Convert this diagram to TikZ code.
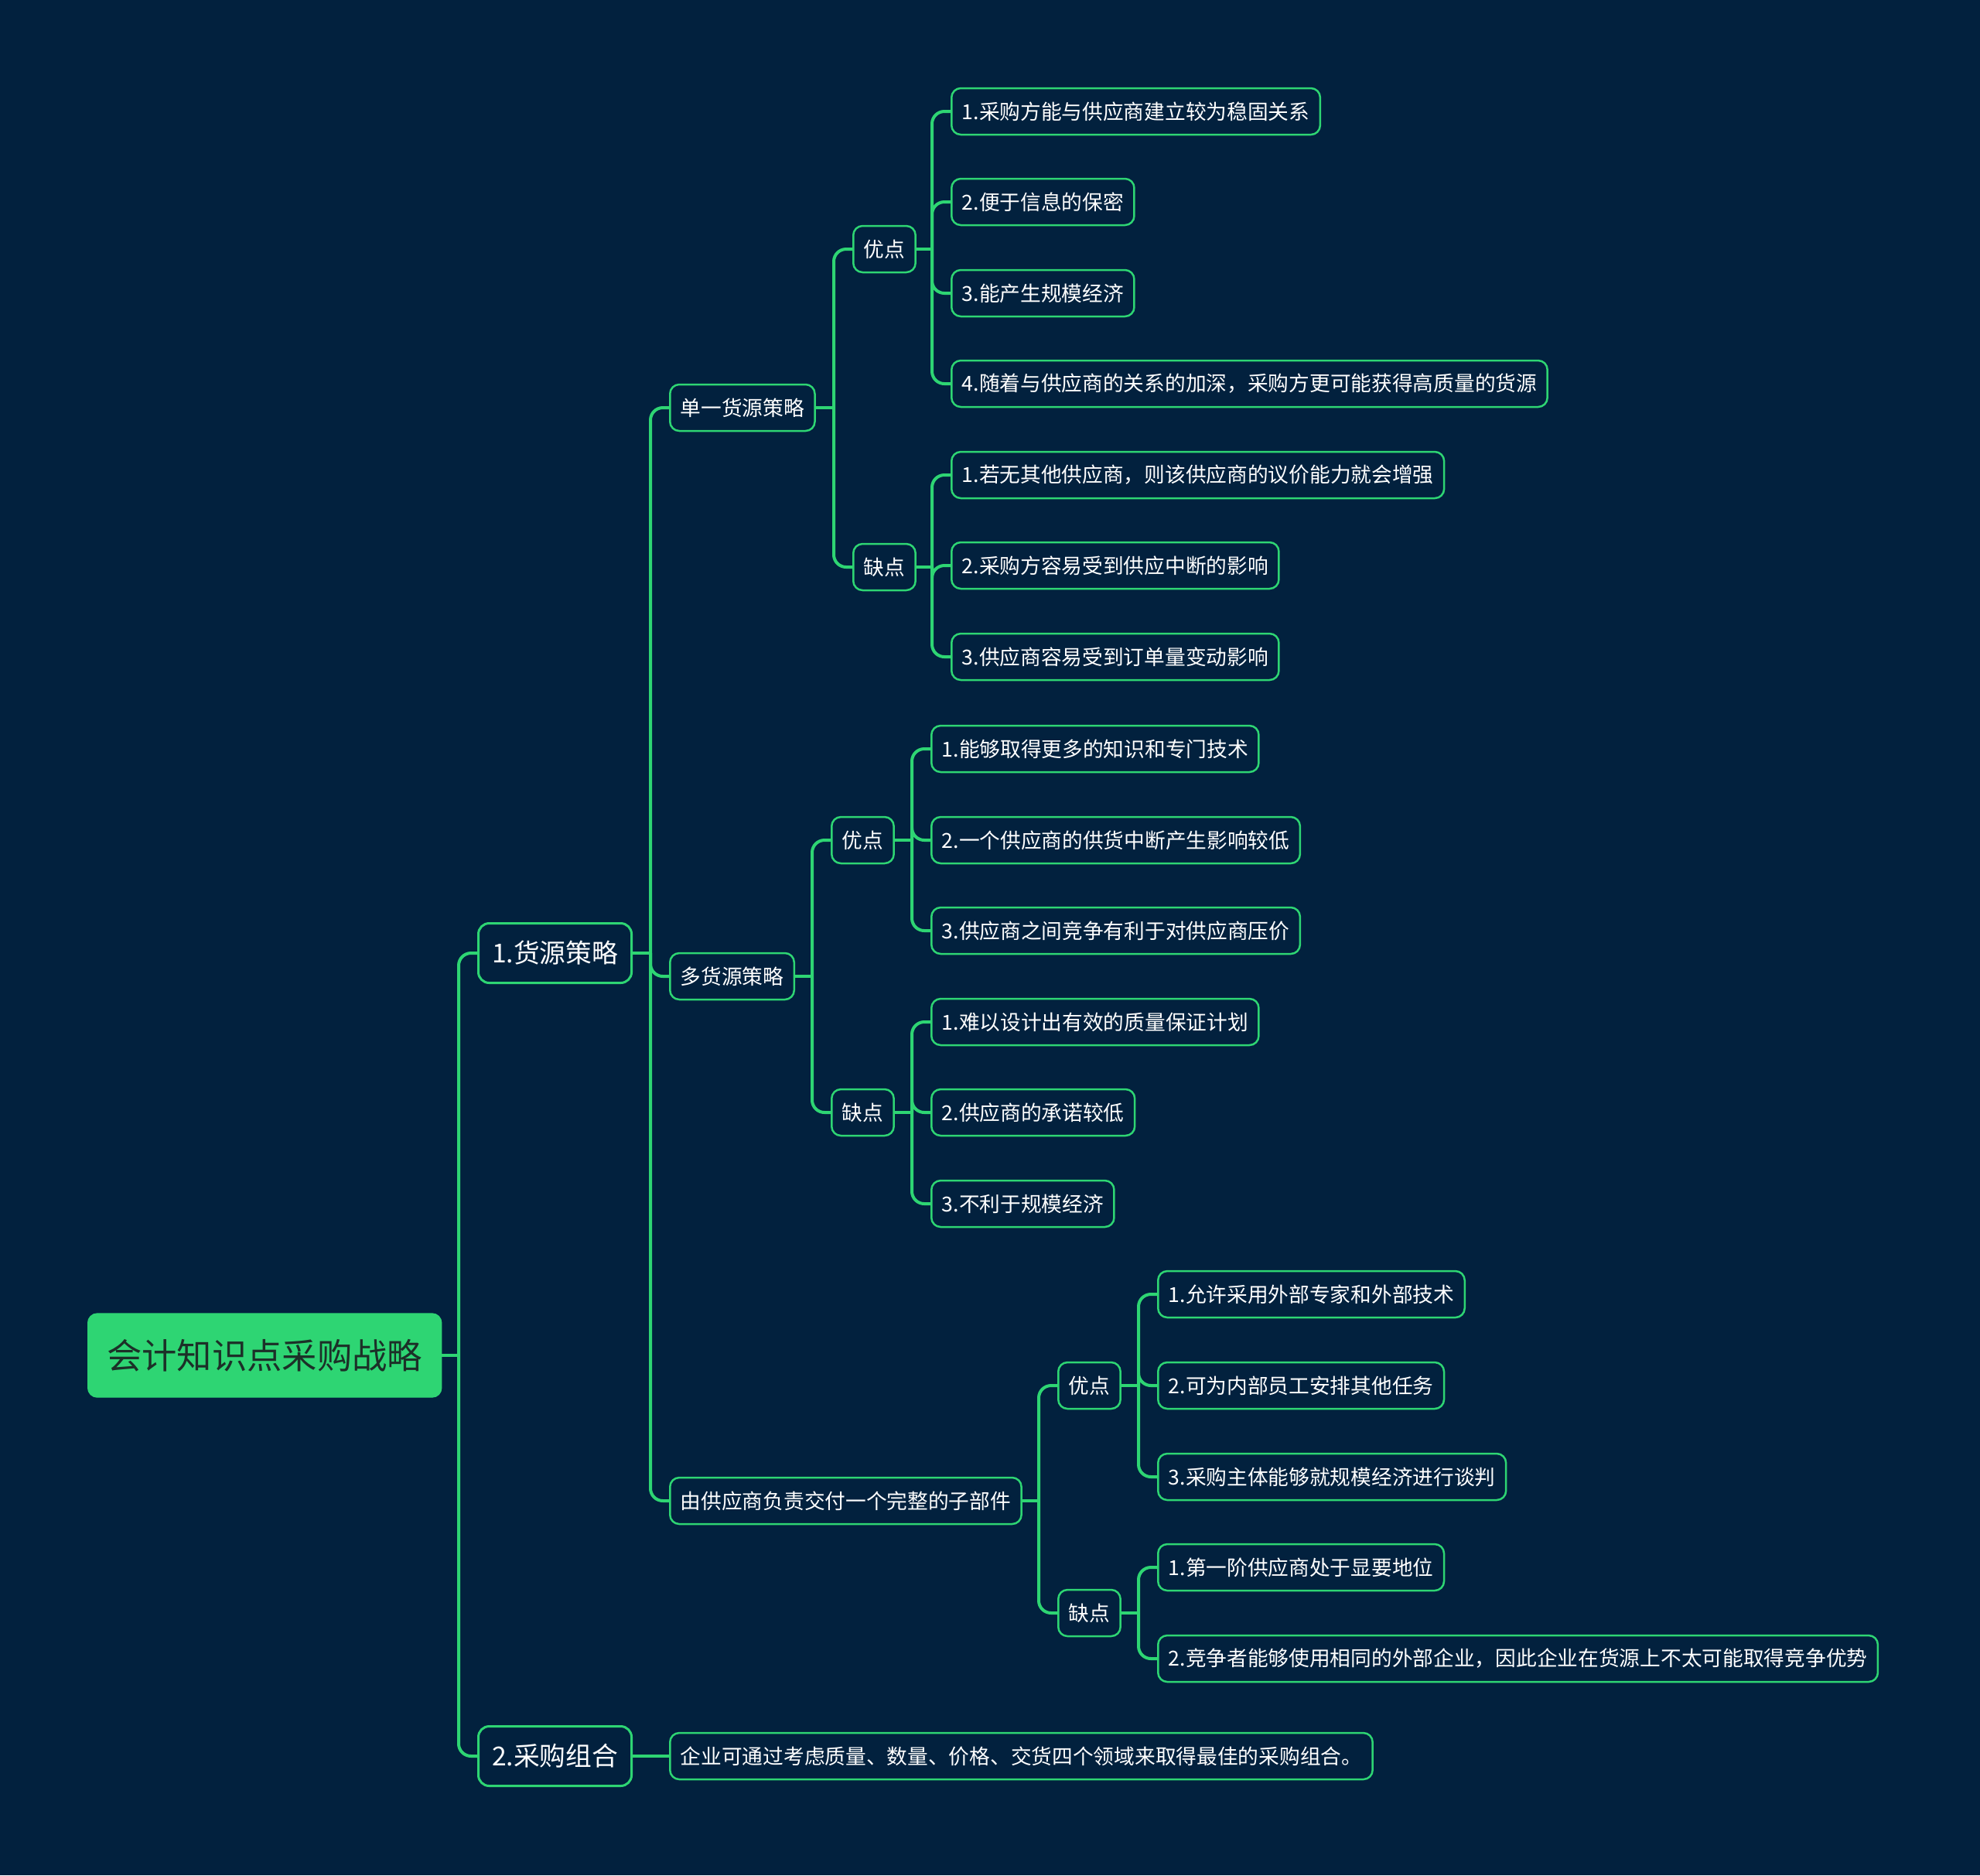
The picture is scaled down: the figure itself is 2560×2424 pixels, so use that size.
\documentclass[tikz,border=0pt]{standalone}
\usepackage{fontspec}
\newfontfamily\cjk{Noto Sans CJK SC}
\definecolor{bgnavy}{RGB}{2,33,62}
\definecolor{mintline}{RGB}{46,213,115}
\definecolor{rootink}{RGB}{28,48,40}
\tikzset{
  rootbox/.style={fill=mintline,draw=mintline,rounded corners=1.2mm,text=rootink,font=\cjk\fontsize{12.9pt}{15pt}\selectfont,minimum height=10.8mm,inner xsep=2.45mm,anchor=west},
  mainbox/.style={draw=mintline,fill=bgnavy,line width=0.3mm,rounded corners=1.4mm,text=white,font=\cjk\fontsize{9.6pt}{12pt}\selectfont,minimum height=7.7mm,inner xsep=1.75mm,anchor=west},
  subbox/.style={draw=mintline,fill=bgnavy,line width=0.25mm,rounded corners=1.2mm,text=white,font=\cjk\fontsize{7.6pt}{9pt}\selectfont,minimum height=6mm,inner xsep=1.35mm,anchor=west},
  link/.style={draw=mintline,line width=0.4mm,rounded corners=1.6mm},
}
\begin{document}
\begin{tikzpicture}[x=0.1mm,y=-0.1mm]
  \fill[bgnavy] (0,0) rectangle (2560,2424);
  % root and first level
  \node[rootbox] (root) at (113,1752) {会计知识点采购战略};
  \node[mainbox] (src) at (617,1232) {1.货源策略};
  \node[mainbox] (mix) at (617,2270) {2.采购组合};
  % second level
  \node[subbox] (single) at (865,527) {单一货源策略};
  \node[subbox] (multi) at (865,1262) {多货源策略};
  \node[subbox] (part) at (865,1940) {由供应商负责交付一个完整的子部件};
  \node[subbox] (mixtxt) at (865,2270) {企业可通过考虑质量、数量、价格、交货四个领域来取得最佳的采购组合。};
  % single source
  \node[subbox] (sPro) at (1102,322) {优点};
  \node[subbox] (sCon) at (1102,733) {缺点};
  \node[subbox] (sPro1) at (1229,144) {1.采购方能与供应商建立较为稳固关系};
  \node[subbox] (sPro2) at (1229,261) {2.便于信息的保密};
  \node[subbox] (sPro3) at (1229,379) {3.能产生规模经济};
  \node[subbox] (sPro4) at (1229,496) {4.随着与供应商的关系的加深，采购方更可能获得高质量的货源};
  \node[subbox] (sCon1) at (1229,614) {1.若无其他供应商，则该供应商的议价能力就会增强};
  \node[subbox] (sCon2) at (1229,731) {2.采购方容易受到供应中断的影响};
  \node[subbox] (sCon3) at (1229,849) {3.供应商容易受到订单量变动影响};
  % multiple sources
  \node[subbox] (mPro) at (1074,1086) {优点};
  \node[subbox] (mCon) at (1074,1438) {缺点};
  \node[subbox] (mPro1) at (1203,968) {1.能够取得更多的知识和专门技术};
  \node[subbox] (mPro2) at (1203,1086) {2.一个供应商的供货中断产生影响较低};
  \node[subbox] (mPro3) at (1203,1203) {3.供应商之间竞争有利于对供应商压价};
  \node[subbox] (mCon1) at (1203,1321) {1.难以设计出有效的质量保证计划};
  \node[subbox] (mCon2) at (1203,1438) {2.供应商的承诺较低};
  \node[subbox] (mCon3) at (1203,1556) {3.不利于规模经济};
  % whole sub-assembly
  \node[subbox] (pPro) at (1367,1791) {优点};
  \node[subbox] (pCon) at (1367,2085) {缺点};
  \node[subbox] (pPro1) at (1496,1673) {1.允许采用外部专家和外部技术};
  \node[subbox] (pPro2) at (1496,1791) {2.可为内部员工安排其他任务};
  \node[subbox] (pPro3) at (1496,1909) {3.采购主体能够就规模经济进行谈判};
  \node[subbox] (pCon1) at (1496,2026) {1.第一阶供应商处于显要地位};
  \node[subbox] (pCon2) at (1496,2144) {2.竞争者能够使用相同的外部企业，因此企业在货源上不太可能取得竞争优势};
  % junctions
  \coordinate[xshift=-2.4mm] (rootJ) at (src.west |- root.east);
  \coordinate[xshift=-2.4mm] (srcJ) at (single.west |- src.east);
  \coordinate[xshift=-2.4mm] (singleJ) at (sPro.west |- single.east);
  \coordinate[xshift=-2.4mm] (sProJ) at (sPro1.west |- sPro.east);
  \coordinate[xshift=-2.4mm] (sConJ) at (sCon1.west |- sCon.east);
  \coordinate[xshift=-2.4mm] (multiJ) at (mPro.west |- multi.east);
  \coordinate[xshift=-2.4mm] (mProJ) at (mPro1.west |- mPro.east);
  \coordinate[xshift=-2.4mm] (mConJ) at (mCon1.west |- mCon.east);
  \coordinate[xshift=-2.4mm] (partJ) at (pPro.west |- part.east);
  \coordinate[xshift=-2.4mm] (pProJ) at (pPro1.west |- pPro.east);
  \coordinate[xshift=-2.4mm] (pConJ) at (pCon1.west |- pCon.east);
  % connectors
  \draw[link] (root.east) -- (rootJ);
  \draw[link] (rootJ) |- (src.west);
  \draw[link] (rootJ) |- (mix.west);
  \draw[link] (mix.east) -- (mixtxt.west);
  \draw[link] (src.east) -- (srcJ);
  \draw[link] (srcJ) |- (single.west);
  \draw[link] (srcJ) |- (multi.west);
  \draw[link] (srcJ) |- (part.west);
  \draw[link] (single.east) -- (singleJ);
  \draw[link] (singleJ) |- (sPro.west);
  \draw[link] (singleJ) |- (sCon.west);
  \draw[link] (sPro.east) -- (sProJ);
  \draw[link] (sProJ) |- (sPro1.west);
  \draw[link] (sProJ) |- (sPro2.west);
  \draw[link] (sProJ) |- (sPro3.west);
  \draw[link] (sProJ) |- (sPro4.west);
  \draw[link] (sCon.east) -- (sConJ);
  \draw[link] (sConJ) |- (sCon1.west);
  \draw[link] (sConJ) |- (sCon2.west);
  \draw[link] (sConJ) |- (sCon3.west);
  \draw[link] (multi.east) -- (multiJ);
  \draw[link] (multiJ) |- (mPro.west);
  \draw[link] (multiJ) |- (mCon.west);
  \draw[link] (mPro.east) -- (mProJ);
  \draw[link] (mProJ) |- (mPro1.west);
  \draw[link] (mProJ) |- (mPro2.west);
  \draw[link] (mProJ) |- (mPro3.west);
  \draw[link] (mCon.east) -- (mConJ);
  \draw[link] (mConJ) |- (mCon1.west);
  \draw[link] (mConJ) |- (mCon2.west);
  \draw[link] (mConJ) |- (mCon3.west);
  \draw[link] (part.east) -- (partJ);
  \draw[link] (partJ) |- (pPro.west);
  \draw[link] (partJ) |- (pCon.west);
  \draw[link] (pPro.east) -- (pProJ);
  \draw[link] (pProJ) |- (pPro1.west);
  \draw[link] (pProJ) |- (pPro2.west);
  \draw[link] (pProJ) |- (pPro3.west);
  \draw[link] (pCon.east) -- (pConJ);
  \draw[link] (pConJ) |- (pCon1.west);
  \draw[link] (pConJ) |- (pCon2.west);
\end{tikzpicture}
\end{document}
